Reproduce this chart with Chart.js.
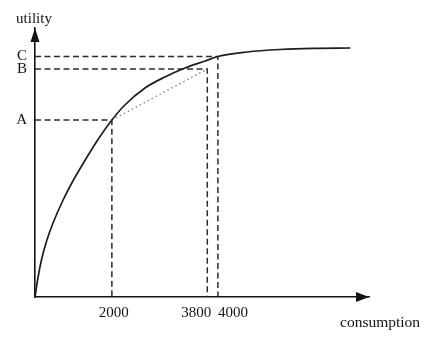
<!DOCTYPE html>
<html>
<head>
<meta charset="utf-8">
<script src="https://cdn.jsdelivr.net/npm/chart.js@4.4.1/dist/chart.umd.min.js"></script>
<style>
	html, body { margin: 0; padding: 0; background: #fff; }
	#wrap { width: 436px; height: 344px; }
</style>
</head>
<body>
<div id="wrap"><canvas id="u-chart"></canvas></div>
<script>
// utility curve
var consumption = [550, 605, 680, 775, 890, 1080, 1265, 1475, 1720, 2000, 2245, 2625, 3000, 3380, 3760, 4000, 4550, 5170, 5800, 6500];
var utility = [0, 19, 39, 57, 74, 97, 116, 135, 156, 177, 192, 209, 220, 229, 236, 240.5, 245, 247.5, 248.7, 249];

// marked points on the consumption axis and their utility levels
var xTicks = [2000, 3800, 4000];
var levelNames = ['A', 'B', 'C'];
var levelValues = [177, 228, 240.5];

var xMin = 550, xMax = 6850;
var yMax = 269;

var font = '15px "Liberation Serif", "DejaVu Serif", serif';
var ink = '#141414';

function pts(xs, ys) {
	return xs.map(function (x, i) { return { x: x, y: ys[i] }; });
}

// dashed guide: from the y axis across to the point, then down to the x axis
function guide(x, level) {
	return {
		data: [{ x: xMin, y: level }, { x: x, y: level }, { x: x, y: 0 }],
		borderColor: '#2b2b2b',
		borderWidth: 1.5,
		borderDash: [6, 3.5],
		pointRadius: 0,
		tension: 0
	};
}

var annotations = {
	id: 'annotations',
	afterDraw: function (chart) {
		var ctx = chart.ctx;
		var a = chart.chartArea;
		var xs = chart.scales.x;
		ctx.save();
		ctx.fillStyle = ink;

		// arrow heads on both axes
		ctx.beginPath();
		ctx.moveTo(a.left, a.top);
		ctx.lineTo(a.left - 4.5, a.top + 14);
		ctx.lineTo(a.left + 4.5, a.top + 14);
		ctx.closePath();
		ctx.fill();
		ctx.beginPath();
		ctx.moveTo(a.right, a.bottom);
		ctx.lineTo(a.right - 13, a.bottom - 5);
		ctx.lineTo(a.right - 13, a.bottom + 5);
		ctx.closePath();
		ctx.fill();

		ctx.font = font;
		ctx.textBaseline = 'middle';

		// consumption tick labels, the close pair pushed apart
		var align = { 2000: 'center', 3800: 'right', 4000: 'left' };
		var nudge = { 2000: 2, 3800: 4, 4000: 0 };
		xTicks.forEach(function (v) {
			ctx.textAlign = align[v];
			ctx.fillText(String(v), xs.getPixelForValue(v) + nudge[v], a.bottom + 16);
		});

		ctx.textAlign = 'center';
		ctx.fillText('utility', a.left - 1, a.top - 9);
		ctx.textAlign = 'left';
		ctx.font = '15.5px "Liberation Serif", "DejaVu Serif", serif';
		ctx.fillText('consumption', a.right - 29, a.bottom + 26);
		ctx.restore();
	}
};

var datasets = [{
	data: pts(consumption, utility),
	borderColor: '#1e1e1e',
	borderWidth: 1.7,
	pointRadius: 0,
	cubicInterpolationMode: 'monotone'
}, {
	// chord between the 2000 and 3800 points
	data: [{ x: xTicks[0], y: levelValues[0] }, { x: xTicks[1], y: levelValues[1] }],
	borderColor: '#8a8a8a',
	borderWidth: 1.5,
	borderDash: [1.5, 3],
	pointRadius: 0,
	tension: 0
}];
xTicks.forEach(function (x, i) {
	datasets.push(guide(x, levelValues[i]));
});

new Chart(document.getElementById('u-chart'), {
	type: 'line',
	data: { datasets: datasets },
	options: {
		responsive: true,
		maintainAspectRatio: false,
		animation: false,
		events: [],
		layout: { padding: { top: 28, right: 67, left: 0, bottom: 0 } },
		plugins: { legend: { display: false }, tooltip: { enabled: false } },
		scales: {
			x: {
				type: 'linear',
				min: xMin,
				max: xMax,
				grid: { display: false },
				border: { color: ink, width: 1.6 },
				ticks: { display: false },
				afterFit: function (s) { s.height = 47; }
			},
			y: {
				min: 0,
				max: yMax,
				grid: { display: false, drawTicks: false },
				border: { color: ink, width: 1.6 },
				afterBuildTicks: function (s) {
					s.ticks = levelValues.map(function (v) { return { value: v }; });
				},
				afterFit: function (s) { s.width = 35; },
				ticks: {
					padding: 8,
					color: ink,
					font: { family: '"Liberation Serif", "DejaVu Serif", serif', size: 15 },
					callback: function (v) {
						var i = levelValues.indexOf(v);
						return i < 0 ? '' : levelNames[i];
					}
				}
			}
		}
	},
	plugins: [annotations]
});
</script>
</body>
</html>
